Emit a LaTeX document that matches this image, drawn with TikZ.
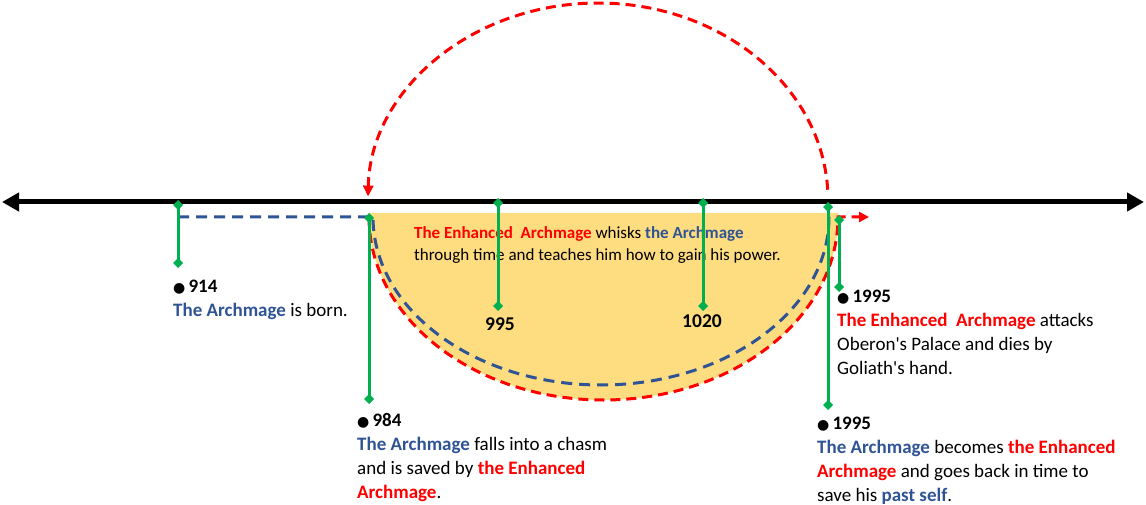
\documentclass[tikz,border=0pt]{standalone}
\usepackage{fontspec}
\setmainfont{Carlito}
\newfontfamily\symfont{DejaVu Sans}
\usetikzlibrary{arrows.meta}

\definecolor{markgreen}{HTML}{00B050}
\definecolor{archblue}{HTML}{2F5496}
\definecolor{hotred}{HTML}{FF0000}
\definecolor{sand}{HTML}{FEDC80}

\newcommand{\archmage}[1]{\textbf{\textcolor{archblue}{#1}}}
\newcommand{\enhanced}[1]{\textbf{\textcolor{hotred}{#1}}}
\newcommand{\dotyear}[1]{{\symfont\fontsize{14}{14}\selectfont ●}\,\textbf{#1}}

\begin{document}
\begin{tikzpicture}[x=1pt, y=-1pt,
        marker/.style={draw=markgreen, line width=3pt,
            {Diamond[length=10pt,width=10pt]}-{Diamond[length=10pt,width=10pt]}},
        event/.style={anchor=north west, align=left, inner sep=0pt,
            font=\fontsize{19}{24}\selectfont},
        year/.style={anchor=base, inner sep=0pt, font=\fontsize{19.5}{24}\selectfont\bfseries},
        redpath/.style={draw=hotred, line width=3pt, dash pattern=on 10pt off 6pt},
        bluepath/.style={draw=archblue, line width=3pt, dash pattern=on 11pt off 7pt}]
    \useasboundingbox (0,0) rectangle (1146,505);

    % named points
    \coordinate (past) at (2,202);
    \coordinate (future) at (1144,202);
    \coordinate (rift) at (369,217);
    \coordinate (loop) at (838,213);
    \coordinate (lineage) at (178,217);
    \coordinate (leap) at (827.7,189.7);

    % the time loop
    \fill[sand] (369,213) -- (loop) -- (838,217)
        arc[start angle=0, end angle=180, x radius=234.5, y radius=183] -- cycle;
    \draw[bluepath] (lineage) -- (373,217)
        arc[start angle=180, end angle=0, x radius=228, y radius=168];
    \draw[redpath, -{Triangle[length=10pt,width=10pt]}] (rift)
        arc[start angle=180, end angle=0, x radius=234.5, y radius=183] -- (869,217);
    \draw[redpath, -{Triangle[length=11pt,width=10pt]}] (leap)
        arc[start angle=-3, end angle=-179, x radius=230, y radius=197];

    % timeline
    \draw[line width=5pt, {Triangle[length=17pt,width=18pt]}-{Triangle[length=17pt,width=18pt]}]
        (past) -- (future);

    % texts
    \node[event] (whisk) at (414,226) [font=\fontsize{17}{22}\selectfont]
        {\enhanced{The Enhanced~ Archmage} whisks \archmage{the Archmage}\\
         through time and teaches him how to gain his power.};
    \node[event] (born) at (173,280)
        {\dotyear{914}\\ \archmage{The Archmage} is born.};
    \node[event] (chasm) at (357,413)
        {\dotyear{984}\\ \archmage{The Archmage} falls into a chasm\\
         and is saved by \enhanced{the Enhanced}\\ \enhanced{Archmage}.};
    \node[event] (attack) at (837,290)
        {\dotyear{1995}\\ \enhanced{The Enhanced~ Archmage} attacks\\
         Oberon\textquotesingle s Palace and dies by\\ Goliath\textquotesingle s hand.};
    \node[event] (become) at (817,417)
        {\dotyear{1995}\\ \archmage{The Archmage} becomes \enhanced{the Enhanced}\\
         \enhanced{Archmage} and goes back in time to\\ save his \archmage{past self}.};
    \node[year] (y995) at (500,330) {995};
    \node[year] (y1020) at (702,327) {1020};

    % event markers
    \draw[marker] (178,200) -- (178,268);
    \draw[marker] (369,213) -- (369,404);
    \draw[marker] (498,198) -- (498,311);
    \draw[marker] (703,198) -- (703,311);
    \draw[marker] (839,215) -- (839,292);
    \draw[marker] (828,202) -- (828,410);
\end{tikzpicture}
\end{document}
